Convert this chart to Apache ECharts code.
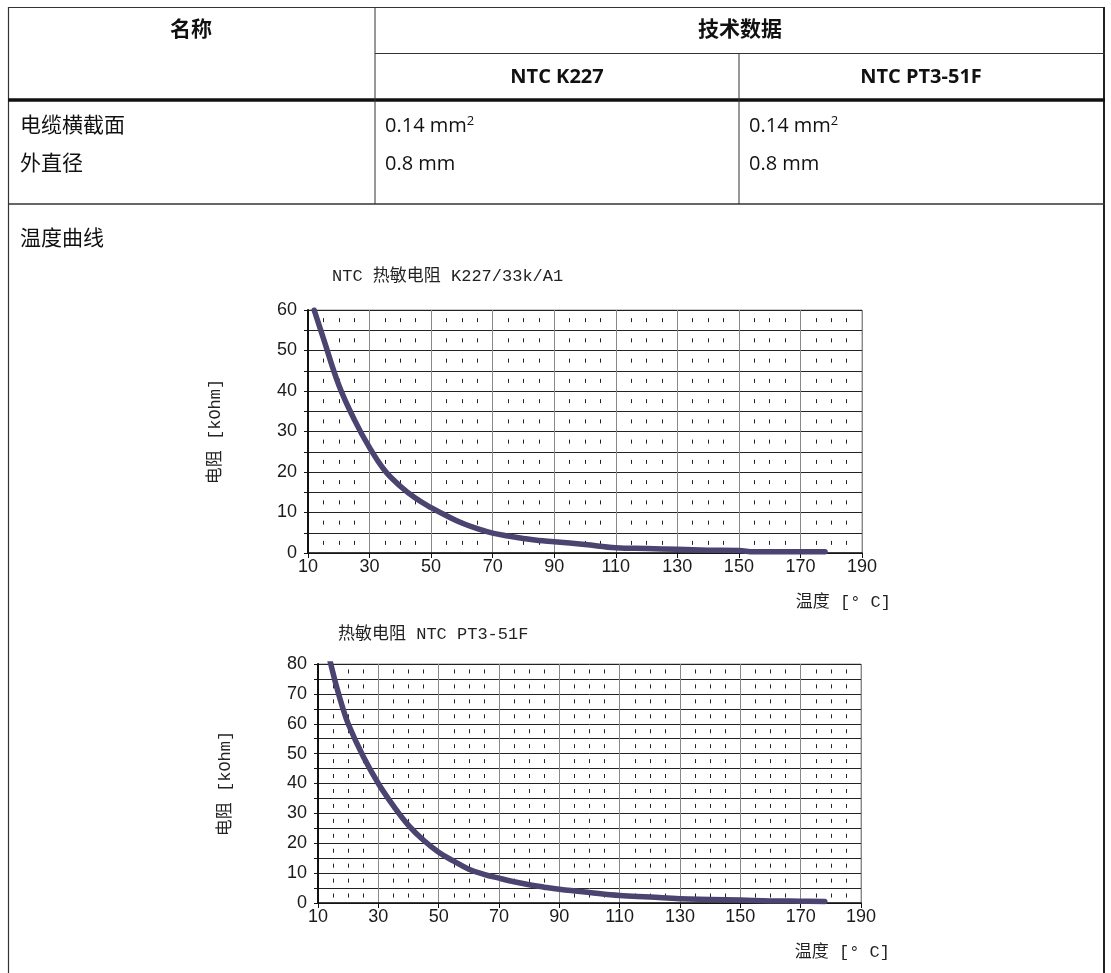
<!DOCTYPE html>
<html>
<head>
<meta charset="utf-8">
<script src="https://cdn.jsdelivr.net/npm/echarts@6/dist/echarts.min.js"></script>
<style>html,body{margin:0;padding:0;background:#fff;}#c{width:1111px;height:973px;}</style>
</head>
<body>
<div id="c"></div>
<script>
// ---- data ----
var temps1 = [12, 15, 20, 25, 30, 35, 40, 45, 50, 55, 60, 65, 70, 75, 80, 85, 90, 100, 110, 120, 130, 140, 150, 155, 165, 178];
var res1   = [60, 53, 41.5, 33, 26, 20.3, 16.5, 13.5, 11.2, 9.2, 7.4, 6, 4.9, 4.2, 3.6, 3.1, 2.8, 2.1, 1.3, 1.1, 0.9, 0.7, 0.6, 0.3, 0.3, 0.3];
var temps2 = [14, 16, 18, 20, 25, 30, 35, 40, 45, 50, 55, 60, 65, 70, 75, 80, 85, 90, 100, 110, 120, 130, 140, 150, 160, 170, 178];
var res2   = [81, 73, 66, 60, 49, 40, 32.5, 26, 21, 17, 14, 11.3, 9.6, 8.3, 7.1, 6.1, 5.3, 4.6, 3.5, 2.5, 2.0, 1.4, 1.2, 1.0, 0.7, 0.6, 0.5];
var title1 = 'NTC 热敏电阻 K227/33k/A1';
var title2 = '热敏电阻 NTC PT3-51F';
var yName = '电阻 [kOhm]';
var xName = '温度 [° C]';

function zip(a, b) { return a.map(function (v, i) { return [v, b[i]]; }); }

var SANS = "'Open Sans','Noto Sans CJK SC',sans-serif";
var MONO = "'Liberation Mono','Noto Sans CJK SC',monospace";
var ARIAL = "'Liberation Sans',Arial,sans-serif";

function xAxisFor(gi, band) {
  return {
    gridIndex: gi, type: 'value', min: 10, max: 190, interval: 20,
    axisLine: { show: true, onZero: false, lineStyle: { color: '#111', width: 1.5 } },
    axisTick: { show: true, length: 5, lineStyle: { color: '#111' } },
    minorTick: { show: false, splitNumber: 4 },
    axisLabel: { color: '#1a1a1a', fontFamily: ARIAL, fontSize: 18, margin: 5 },
    splitLine: { show: true, lineStyle: { color: '#888', width: 1 } },
    minorSplitLine: { show: true, lineStyle: { color: '#222', width: 1, type: [4, band - 4], dashOffset: band / 2 + 2 } },
    name: xName, nameLocation: 'end', nameGap: 29,
    nameTextStyle: { fontFamily: MONO, fontSize: 17, color: '#222', align: 'right', verticalAlign: 'top', padding: [41, 0, 0, 0] }
  };
}
function yAxisFor(gi, max) {
  return {
    gridIndex: gi, type: 'value', min: 0, max: max, interval: 10,
    axisLine: { show: true, lineStyle: { color: '#111', width: 2 } },
    axisTick: { show: true, length: 4, lineStyle: { color: '#111' } },
    minorTick: { show: true, splitNumber: 2, length: 4, lineStyle: { color: '#111' } },
    axisLabel: { color: '#1a1a1a', fontFamily: ARIAL, fontSize: 18, margin: 11 },
    splitLine: { show: true, lineStyle: { color: '#222', width: 1 } },
    minorSplitLine: { show: true, lineStyle: { color: '#222', width: 1 } },
    name: yName, nameLocation: 'middle', nameGap: 84,
    nameTextStyle: { fontFamily: MONO, fontSize: 17, color: '#222' }
  };
}

var lineColor = '#4b4370';
var chart = echarts.init(document.getElementById('c'), null, { renderer: 'canvas' });

var g = [];
function hline(x1, x2, y, w, c) { g.push({ type: 'line', shape: { x1: x1, y1: y, x2: x2, y2: y }, style: { stroke: c || '#222', lineWidth: w || 1 } }); }
function vline(x, y1, y2, w, c) { g.push({ type: 'line', shape: { x1: x, y1: y1, x2: x, y2: y2 }, style: { stroke: c || '#222', lineWidth: w || 1 } }); }
function txt(t, x, y, opt) {
  opt = opt || {};
  g.push({ type: 'text', x: x, y: y, style: {
    text: t, fill: '#111', font: (opt.bold ? 'bold ' : '') + (opt.size || 20) + 'px ' + SANS,
    textAlign: opt.align || 'left', textVerticalAlign: 'middle', rich: opt.rich
  } });
}
// table borders
hline(8, 1105, 7.5, 1.2, '#333');
vline(8.5, 7, 973, 1.2, '#333');
vline(1104, 7, 973, 2, '#222');
hline(375, 1105, 53.5, 1, '#333');
hline(8, 1105, 100, 3.5, '#111');
vline(375, 7, 204, 1, '#333');
vline(739, 53, 204, 1, '#333');
hline(8, 1105, 204, 1.5, '#333');
// table text
txt('名称', 191, 30, { bold: true, align: 'center', size: 21 });
txt('技术数据', 740, 30, { bold: true, align: 'center', size: 21 });
txt('NTC K227', 557, 77, { bold: true, align: 'center' });
txt('NTC PT3-51F', 921, 77, { bold: true, align: 'center' });
txt('电缆横截面', 20, 126, { size: 21 });
txt('外直径', 20, 164, { size: 21 });
txt('温度曲线', 20, 239, { size: 21 });
var supRich = { s: { fontSize: 13, fontFamily: SANS, fill: '#111', verticalAlign: 'top', padding: [0, 0, 10, 0] } };
txt('0.14 mm{s|2}', 385, 126, { rich: supRich });
txt('0.14 mm{s|2}', 749, 126, { rich: supRich });
txt('0.8 mm', 385, 164, {});
txt('0.8 mm', 749, 164, {});

chart.setOption({
  animation: false,
  backgroundColor: '#fff',
  title: [
    { text: title1, left: 327, top: 263, textStyle: { fontFamily: MONO, fontSize: 17, fontWeight: 'normal', color: '#222' } },
    { text: title2, left: 333, top: 621, textStyle: { fontFamily: MONO, fontSize: 17, fontWeight: 'normal', color: '#222' } }
  ],
  grid: [
    { left: 308, top: 310, width: 554, height: 243, show: true, borderColor: '#999', borderWidth: 1, containLabel: false },
    { left: 318, top: 664, width: 543, height: 239, show: true, borderColor: '#999', borderWidth: 1, containLabel: false }
  ],
  xAxis: [xAxisFor(0, 243 / 12), xAxisFor(1, 239 / 16)],
  yAxis: [yAxisFor(0, 60), yAxisFor(1, 80)],
  series: [
    { type: 'line', xAxisIndex: 0, yAxisIndex: 0, data: zip(temps1, res1), smooth: 0.4, showSymbol: false,
      lineStyle: { color: lineColor, width: 5.5, cap: 'round', join: 'round' }, z: 5 },
    { type: 'line', xAxisIndex: 1, yAxisIndex: 1, data: zip(temps2, res2), smooth: 0.4, showSymbol: false,
      lineStyle: { color: lineColor, width: 5.5, cap: 'round', join: 'round' }, z: 5 }
  ],
  graphic: g
});
</script>
</body>
</html>
